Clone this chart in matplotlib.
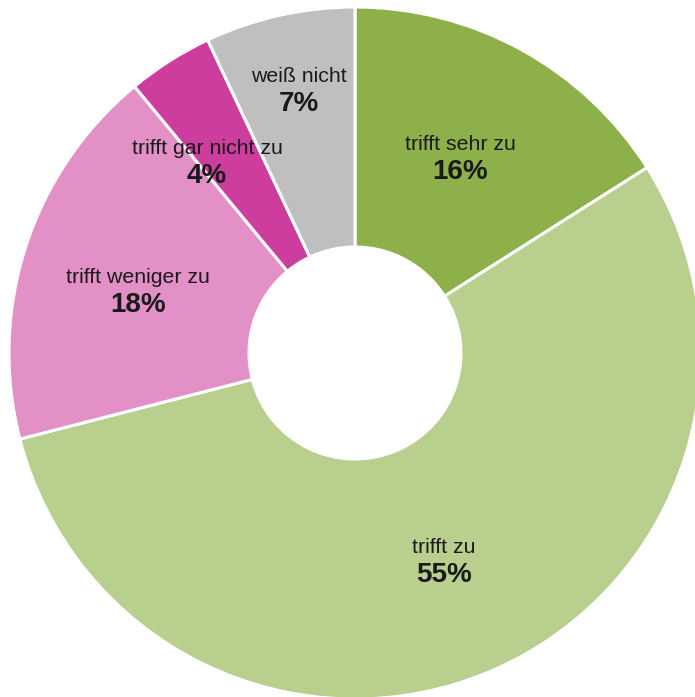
import numpy as np
import matplotlib
matplotlib.use('Agg')
import matplotlib.pyplot as plt

plt.rcParams['font.family'] = ['Liberation Sans', 'DejaVu Sans']

# Answer categories (clockwise from the top) and their shares in percent
labels = ['trifft sehr zu', 'trifft zu', 'trifft weniger zu', 'trifft gar nicht zu', 'weiß nicht']
shares = [16, 55, 18, 4, 7]
colors = ['#8db04b', '#b9cf8e', '#e290c6', '#cc3d9d', '#bfbfbf']

# label anchor points in pixel coordinates (x, y from top)
label_pos = [(460, 157), (444, 560), (138, 290), (207, 161), (299, 89)]

W, H = 695, 697
fig = plt.figure(figsize=(W / 100, H / 100), dpi=100)
ax = fig.add_axes([0, 0, 1, 1])

cx, cy, r_out, r_in = 355, H - 353, 346, 106
ax.pie(shares, colors=colors, startangle=90, counterclock=False,
       center=(cx, cy), radius=r_out,
       wedgeprops=dict(width=r_out - r_in, edgecolor='white', linewidth=2.2))

for lab, val, (x, y) in zip(labels, shares, label_pos):
    ax.text(x, H - y + 3, lab, ha='center', va='bottom', fontsize=15.3, color='#1a1a1a')
    ax.text(x, H - y - 2, f'{val}%', ha='center', va='top', fontsize=20,
            fontweight='bold', color='#1a1a1a')

ax.set_xlim(0, W)
ax.set_ylim(0, H)
ax.set_aspect('equal')
ax.axis('off')

plt.savefig('out.png', dpi=100)
